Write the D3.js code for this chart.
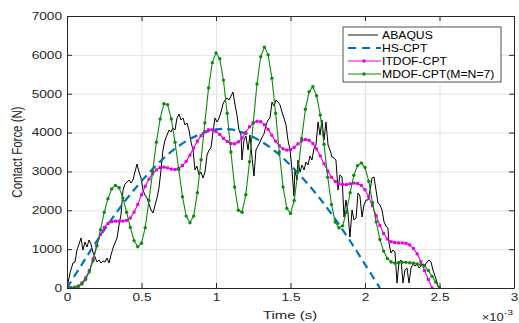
<!DOCTYPE html>
<html>
<head>
<meta charset="utf-8">
<script src="https://cdn.jsdelivr.net/npm/d3@7"></script>
<style>
  body { margin: 0; background: #fff; }
  text { font-family: "Liberation Sans", Arial, Helvetica, sans-serif; }
</style>
</head>
<body>
<div id="chart"></div>
<script>
// time in ms (axis shows x 10^-3 s), force in N
var xTicks = [0, 0.5, 1, 1.5, 2, 2.5, 3];
var yTicks = [0, 1000, 2000, 3000, 4000, 5000, 6000, 7000];
var seriesNames = ["ABAQUS", "HS-CPT", "ITDOF-CPT", "MDOF-CPT(M=N=7)"];

var abaqusT = [0, .020, .034, .040, .054, .067, .081, .094, .107, .121, .134, .148, .161, .174, .188, .201, .215, .228, .242, .255, .268, .282, .295, .309, .322, .336, .349, .362, .376, .389, .403, .416, .430, .443, .456, .470, .483, .497, .510, .523, .537, .550, .564, .577, .591, .604, .617, .631, .644, .658, .671, .685, .698, .711, .725, .738, .752, .765, .779, .792, .805, .819, .832, .846, .859, .872, .886, .899, .913, .926, .940, .953, .966, .980, .993, 1.007, 1.020, 1.034, 1.047, 1.060, 1.074, 1.087, 1.101, 1.114, 1.128, 1.141, 1.154, 1.168, 1.174, 1.188, 1.201, 1.215, 1.228, 1.242, 1.255, 1.268, 1.282, 1.295, 1.309, 1.322, 1.336, 1.349, 1.362, 1.376, 1.389, 1.403, 1.416, 1.430, 1.443, 1.456, 1.470, 1.483, 1.497, 1.510, 1.523, 1.530, 1.544, 1.550, 1.564, 1.577, 1.591, 1.604, 1.617, 1.631, 1.644, 1.658, 1.671, 1.685, 1.698, 1.711, 1.725, 1.738, 1.752, 1.765, 1.779, 1.792, 1.805, 1.819, 1.832, 1.846, 1.859, 1.872, 1.886, 1.899, 1.913, 1.926, 1.940, 1.953, 1.966, 1.980, 1.993, 2.007, 2.020, 2.034, 2.047, 2.060, 2.074, 2.087, 2.101, 2.114, 2.128, 2.141, 2.154, 2.161, 2.174, 2.188, 2.201, 2.215, 2.228, 2.242, 2.255, 2.268, 2.282, 2.295, 2.309, 2.322, 2.336, 2.349, 2.362, 2.376, 2.389, 2.403, 2.416, 2.430, 2.443, 2.456, 2.470, 2.483, 2.490];
var abaqusF = [0, 386, 566, 643, 669, 978, 1132, 1287, 978, 1184, 1055, 1235, 1132, 926, 798, 669, 720, 643, 695, 669, 772, 643, 849, 1029, 1158, 1287, 1621, 1878, 2522, 2676, 2727, 2779, 2702, 2779, 2985, 3191, 2985, 2830, 2522, 2393, 2316, 2161, 2007, 1930, 2136, 2316, 2573, 3036, 3551, 3808, 3937, 4066, 4014, 4117, 4066, 4374, 4477, 4323, 4374, 4194, 4246, 4066, 3757, 3551, 3036, 3139, 2908, 2985, 2830, 2985, 3422, 3551, 3602, 4014, 4374, 4271, 4374, 4529, 4734, 4837, 4889, 4837, 4940, 5043, 4709, 4451, 4066, 3937, 3293, 3808, 3911, 3551, 3937, 3345, 2882, 3551, 3654, 3757, 3885, 3962, 4194, 4323, 4374, 4786, 4683, 4837, 4786, 4709, 4529, 4374, 4194, 3808, 3551, 3036, 2367, 3036, 2779, 3293, 2985, 3165, 3036, 3242, 3165, 3396, 3293, 3602, 3680, 4271, 3937, 4323, 3808, 4271, 3680, 3551, 3371, 3345, 3293, 2522, 2908, 2856, 1827, 2264, 1930, 1312, 2007, 1750, 1801, 2444, 2367, 1827, 2136, 2264, 2264, 2522, 2830, 2856, 2522, 2187, 2136, 2007, 1698, 1595, 1544, 1158, 900, 978, 926, 129, 669, 720, 129, 463, 515, 129, 515, 617, 566, 617, 515, 566, 617, 592, 669, 720, 669, 463, 309, 154, 26];

var hsT = [0, 0.1, 0.2, 0.3, 0.4, 0.5, 0.6, 0.7, 0.8, 0.9, 1.0, 1.1, 1.2, 1.3, 1.4, 1.5, 1.6, 1.7, 1.8, 1.9, 2.0, 2.1];
var hsF = [0, 610, 1210, 1770, 2290, 2750, 3160, 3510, 3780, 3970, 4080, 4080, 3970, 3780, 3510, 3160, 2750, 2290, 1770, 1210, 610, 0];

var itdofT = [0, .025, .05, .075, .1, .125, .15, .175, .2, .225, .25, .275, .3, .325, .35, .375, .4, .425, .45, .475, .5, .525, .55, .575, .6, .625, .65, .675, .7, .725, .75, .775, .8, .825, .85, .875, .9, .925, .95, .975, 1.0, 1.025, 1.05, 1.075, 1.1, 1.125, 1.15, 1.175, 1.2, 1.225, 1.25, 1.275, 1.3, 1.325, 1.35, 1.375, 1.4, 1.425, 1.45, 1.475, 1.5, 1.525, 1.55, 1.575, 1.6, 1.625, 1.65, 1.675, 1.7, 1.725, 1.75, 1.775, 1.8, 1.825, 1.85, 1.875, 1.9, 1.925, 1.95, 1.975, 2.0, 2.025, 2.05, 2.075, 2.1, 2.125, 2.15, 2.175, 2.2, 2.225, 2.25, 2.275, 2.3, 2.325, 2.35, 2.375, 2.4, 2.425, 2.45];
var itdofF = [0, 10, 20, 50, 130, 260, 450, 750, 1100, 1380, 1560, 1660, 1710, 1720, 1720, 1720, 1740, 1800, 1950, 2150, 2400, 2620, 2800, 2940, 3040, 3100, 3110, 3090, 3060, 3050, 3080, 3150, 3260, 3420, 3600, 3780, 3920, 4020, 4070, 4070, 4030, 3950, 3850, 3770, 3720, 3710, 3760, 3860, 4000, 4150, 4250, 4290, 4280, 4200, 4080, 3930, 3780, 3660, 3580, 3550, 3560, 3620, 3710, 3790, 3820, 3800, 3720, 3580, 3400, 3200, 3010, 2850, 2740, 2680, 2660, 2660, 2680, 2700, 2690, 2640, 2530, 2350, 2120, 1860, 1610, 1400, 1260, 1190, 1170, 1160, 1160, 1150, 1110, 1020, 880, 680, 450, 220, 0];

var mdofT = [0, .025, .05, .075, .1, .125, .15, .175, .2, .225, .25, .275, .3, .325, .35, .375, .4, .425, .45, .475, .5, .525, .55, .575, .6, .625, .65, .675, .7, .725, .75, .775, .8, .825, .85, .875, .9, .925, .95, .975, 1.0, 1.025, 1.05, 1.075, 1.1, 1.125, 1.15, 1.175, 1.2, 1.225, 1.25, 1.275, 1.3, 1.325, 1.35, 1.375, 1.4, 1.425, 1.45, 1.475, 1.5, 1.525, 1.55, 1.575, 1.6, 1.625, 1.65, 1.675, 1.7, 1.725, 1.75, 1.775, 1.8, 1.825, 1.85, 1.875, 1.9, 1.925, 1.95, 1.975, 2.0, 2.025, 2.05, 2.075, 2.1, 2.125, 2.15, 2.175, 2.2, 2.225, 2.25, 2.275, 2.3, 2.325, 2.35, 2.375, 2.4, 2.425, 2.45, 2.475, 2.5];
var mdofF = [0, 0, 10, 40, 100, 220, 420, 700, 1080, 1500, 1950, 2300, 2550, 2640, 2580, 2320, 1950, 1560, 1220, 1060, 1150, 1550, 2250, 3000, 3750, 4350, 4740, 4720, 4350, 3750, 3050, 2350, 1850, 1680, 1850, 2450, 3300, 4250, 5150, 5800, 6050, 5900, 5350, 4500, 3500, 2600, 2000, 1950, 2400, 3250, 4250, 5250, 5950, 6200, 6000, 5400, 4500, 3500, 2600, 2050, 1920, 2250, 3000, 3850, 4600, 5050, 5180, 4950, 4450, 3700, 2850, 2150, 1700, 1550, 1600, 1950, 2450, 2900, 3150, 3220, 3100, 2750, 2200, 1700, 1250, 950, 760, 670, 640, 650, 660, 660, 650, 640, 620, 600, 570, 450, 300, 150, 0];

var W = 519, H = 323;
var plot = {left: 67, top: 16, right: 514, bottom: 288};
var SX = 1.3; // glyphs in the reference are drawn wide
var axisColor = "#262626";
var colors = {abaqus: "#000000", hs: "#0072BD", itdof: "#e600e6", mdof: "#0b8a0b"};

var svg = d3.select("#chart").append("svg")
  .attr("width", W).attr("height", H);

var x = d3.scaleLinear().domain([0, 3]).range([plot.left, plot.right]);
var y = d3.scaleLinear().domain([0, 7000]).range([plot.bottom, plot.top]);
var pw = plot.right - plot.left, ph = plot.bottom - plot.top;

// grid
svg.append("g").attr("transform", "translate(0," + plot.bottom + ")")
  .call(d3.axisBottom(x).tickValues(xTicks).tickSize(-ph).tickFormat(""))
  .call(function (g) { g.select(".domain").remove(); g.selectAll("line").attr("stroke", "#e3e3e3"); });
svg.append("g").attr("transform", "translate(" + plot.left + ",0)")
  .call(d3.axisLeft(y).tickValues(yTicks).tickSize(-pw).tickFormat(""))
  .call(function (g) { g.select(".domain").remove(); g.selectAll("line").attr("stroke", "#e3e3e3"); });

var clip = svg.append("clipPath").attr("id", "clip").append("rect")
  .attr("x", plot.left).attr("y", plot.top).attr("width", pw).attr("height", ph);
var plotG = svg.append("g").attr("clip-path", "url(#clip)");

function pts(ts, fs) { return ts.map(function (t, i) { return [t, fs[i]]; }); }
var line = d3.line().x(function (d) { return x(d[0]); }).y(function (d) { return y(d[1]); });

var abaqus = pts(abaqusT, abaqusF), hs = pts(hsT, hsF), itdof = pts(itdofT, itdofF), mdof = pts(mdofT, mdofF);

plotG.append("path").datum(abaqus).attr("d", line)
  .attr("fill", "none").attr("stroke", colors.abaqus).attr("stroke-width", 1);

plotG.append("path").datum(hs).attr("d", line.curve(d3.curveCatmullRom))
  .attr("fill", "none").attr("stroke", colors.hs).attr("stroke-width", 2.2)
  .attr("stroke-dasharray", "8,5");
line.curve(d3.curveLinear);

plotG.append("path").datum(itdof).attr("d", line)
  .attr("fill", "none").attr("stroke", colors.itdof).attr("stroke-width", 1.1);
plotG.selectAll("rect.mk").data(itdof).enter().append("rect").attr("class", "mk")
  .attr("x", function (d) { return x(d[0]) - 1.5; })
  .attr("y", function (d) { return y(d[1]) - 1.5; })
  .attr("width", 3).attr("height", 3).attr("fill", colors.itdof);

plotG.append("path").datum(mdof).attr("d", line)
  .attr("fill", "none").attr("stroke", colors.mdof).attr("stroke-width", 1.1);
plotG.selectAll("circle.mk").data(mdof).enter().append("circle").attr("class", "mk")
  .attr("cx", function (d) { return x(d[0]); })
  .attr("cy", function (d) { return y(d[1]); })
  .attr("r", 1.7).attr("fill", colors.mdof);

// axes with inward ticks
function styleAxis(g) {
  g.select(".domain").attr("stroke", axisColor);
  g.selectAll(".tick line").attr("stroke", axisColor);
}
var bottom = svg.append("g").attr("transform", "translate(0," + plot.bottom + ")")
  .call(d3.axisBottom(x).tickValues(xTicks).tickSizeInner(-5).tickSizeOuter(0).tickPadding(6)
    .tickFormat(function (d) { return d; }))
  .call(styleAxis);
bottom.selectAll(".tick text").attr("fill", axisColor).attr("font-size", 10.5)
  .attr("transform", "scale(" + SX + ",1)");

var left = svg.append("g").attr("transform", "translate(" + plot.left + ",0)")
  .call(d3.axisLeft(y).tickValues(yTicks).tickSizeInner(-5).tickSizeOuter(0).tickPadding(5))
  .call(styleAxis);
left.selectAll(".tick text").attr("fill", axisColor).attr("font-size", 10.5)
  .attr("x", -5 / SX).attr("transform", "scale(" + SX + ",1)")
  .text(function (d) { return d; });

svg.append("g").attr("transform", "translate(0," + plot.top + ")")
  .call(d3.axisTop(x).tickValues(xTicks).tickSizeInner(-5).tickSizeOuter(0).tickFormat(""))
  .call(styleAxis);
svg.append("g").attr("transform", "translate(" + plot.right + ",0)")
  .call(d3.axisRight(y).tickValues(yTicks).tickSizeInner(-5).tickSizeOuter(0).tickFormat(""))
  .call(styleAxis);

// axis labels
svg.append("text").attr("transform", "translate(290,319) scale(" + SX + ",1)")
  .attr("text-anchor", "middle").attr("font-size", 11.5).attr("fill", axisColor).text("Time (s)");
svg.append("text").attr("transform", "translate(22,152) scale(" + SX + ",1) rotate(-90)")
  .attr("text-anchor", "middle").attr("font-size", 11.5).attr("fill", axisColor).text("Contact Force (N)");
var ex = svg.append("text").attr("transform", "translate(513,321) scale(" + SX + ",1)")
  .attr("text-anchor", "end").attr("font-size", 10).attr("fill", axisColor);
ex.append("tspan").text("\u00d710");
ex.append("tspan").attr("dy", -6).attr("font-size", 8).text("-3");

// legend
var lg = svg.append("g").attr("transform", "translate(343,27)");
lg.append("rect").attr("width", 158).attr("height", 55)
  .attr("fill", "#fff").attr("stroke", axisColor).attr("stroke-width", 0.8);
var rowY = [8, 21, 34, 47];
var styles = [
  {c: colors.abaqus, w: 1.2, dash: null, mk: null},
  {c: colors.hs, w: 2.2, dash: "8,6", mk: null},
  {c: colors.itdof, w: 1.1, dash: null, mk: "sq"},
  {c: colors.mdof, w: 1.1, dash: null, mk: "dot"}
];
seriesNames.forEach(function (name, i) {
  var s = styles[i], ry = rowY[i];
  lg.append("line").attr("x1", 5).attr("x2", i == 0 ? 35 : 38).attr("y1", ry).attr("y2", ry)
    .attr("stroke", i == 0 ? "#3a3a3a" : s.c).attr("stroke-width", s.w)
    .attr("stroke-dasharray", s.dash);
  if (s.mk == "sq") lg.append("rect").attr("x", 19.5).attr("y", ry - 1.5).attr("width", 3).attr("height", 3).attr("fill", s.c);
  if (s.mk == "dot") lg.append("circle").attr("cx", 21).attr("cy", ry).attr("r", 1.7).attr("fill", s.c);
  lg.append("text").attr("transform", "translate(39," + (ry + 3.5) + ") scale(1.22,1)")
    .attr("font-size", 10).attr("fill", "#000").text(name);
});
</script>
</body>
</html>
